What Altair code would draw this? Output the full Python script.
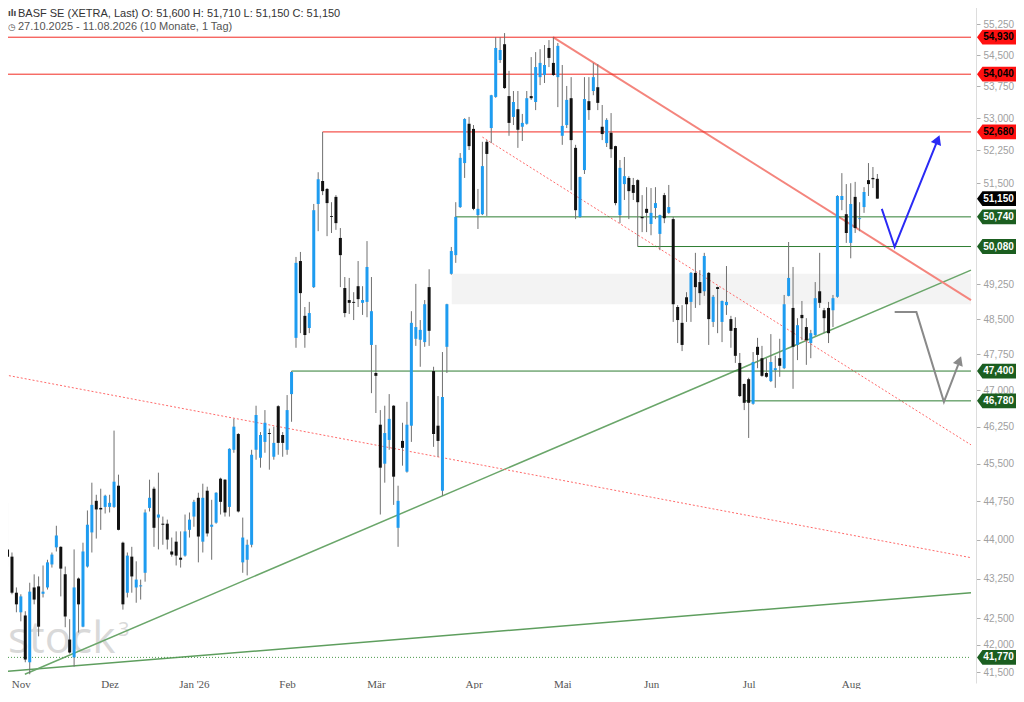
import json
import altair as alt
import pandas as pd

# ---------------- data (prices in EUR, trading-day index; 0 = 03.11.2025) ----------------
first_day = -3
opens = [43.81, 43.67, 42.98, 42.61, 42.55, 41.68, 43.08, 43.10, 42.96, 43.08, 43.52, 43.85, 43.86, 43.33, 42.10, 41.77,
         43.25, 42.34, 43.48, 44.14, 44.76, 44.62, 44.64, 44.64, 44.64, 45.06, 43.94, 42.98, 43.67, 43.08, 43.10, 43.36,
         44.62, 45.00, 44.43, 44.31, 44.31, 43.77, 43.96, 43.65, 43.69, 44.19, 44.45, 44.82, 43.96, 44.96, 44.25, 44.33,
         45.20, 45.18, 44.64, 45.78, 46.10, 43.56, 43.61, 43.90, 45.78, 45.62, 45.94, 46.12, 45.64, 46.67, 46.08, 45.78,
         46.92, 48.10, 49.76, 48.57, 48.31, 49.19, 51.03, 51.55, 51.37, 50.76, 51.19, 50.27, 49.17, 48.91, 48.87, 49.21,
         48.85, 48.87, 47.95, 47.36, 46.29, 45.50, 45.98, 46.68, 44.23, 45.96, 45.34, 46.27, 48.08, 48.06, 48.01, 49.19,
         47.40, 46.27, 44.96, 47.91, 49.48, 49.89, 50.96, 51.96, 52.87, 52.75, 50.78, 50.80, 52.45, 52.77, 53.50, 54.38,
         54.76, 53.52, 53.03, 53.21, 52.80, 52.87, 53.52, 53.38, 53.97, 54.02, 54.67, 54.31, 53.97, 52.59, 52.84, 53.47,
         52.31, 50.74, 51.80, 53.40, 53.64, 53.73, 52.80, 52.42, 52.66, 52.35, 50.78, 51.48, 51.62, 51.46, 51.57, 50.74,
         50.92, 50.58, 50.94, 50.36, 51.23, 50.83, 50.69, 48.76, 48.42, 48.97, 48.87, 49.50, 49.30, 49.10, 49.50, 48.44,
         49.19, 48.44, 48.80, 48.50, 48.31, 47.57, 47.13, 47.23, 46.72, 47.91, 47.67, 47.36, 47.19, 47.42, 47.67, 47.46,
         49.00, 48.74, 47.95, 48.59, 48.33, 47.99, 48.16, 49.10, 48.69, 48.74, 48.69, 48.98, 51.12, 50.80, 50.16, 51.19,
         50.69, 50.96, 51.57, 51.62, 51.60]
highs = [44.72, 43.75, 43.08, 42.95, 42.63, 43.17, 43.33, 43.29, 43.50, 43.61, 43.75, 44.27, 43.87, 43.48, 42.48, 43.81,
         43.27, 43.94, 44.57, 45.12, 44.88, 45.00, 44.88, 44.88, 46.17, 45.28, 43.96, 43.75, 43.86, 43.58, 43.23, 44.59,
         45.18, 45.04, 45.32, 44.45, 44.39, 44.04, 44.16, 44.16, 44.49, 44.53, 44.78, 44.92, 45.10, 45.04, 44.78, 44.93,
         45.22, 45.19, 45.81, 46.41, 46.12, 44.43, 44.00, 45.78, 46.68, 46.14, 46.59, 46.21, 46.25, 46.69, 46.14, 46.90,
         47.40, 49.85, 49.96, 48.76, 48.87, 51.03, 51.75, 52.68, 51.39, 51.07, 51.23, 50.49, 49.41, 49.39, 49.08, 49.76,
         49.21, 50.20, 49.41, 47.95, 46.59, 46.68, 46.92, 46.69, 45.06, 46.33, 46.76, 48.67, 49.26, 48.48, 48.91, 49.58,
         47.49, 46.88, 47.80, 48.83, 50.07, 51.07, 52.19, 53.00, 53.03, 52.84, 51.37, 52.45, 52.49, 53.55, 54.93, 54.93,
         55.03, 54.12, 53.64, 53.64, 53.10, 53.64, 54.45, 54.57, 54.64, 54.74, 54.86, 54.93, 54.79, 54.26, 53.76, 53.97,
         52.38, 51.65, 53.97, 53.97, 54.31, 54.28, 53.31, 53.00, 53.12, 52.36, 52.03, 52.10, 51.66, 51.62, 51.59, 51.23,
         51.41, 51.39, 51.41, 50.79, 51.28, 51.46, 50.74, 48.80, 48.80, 49.08, 49.52, 49.94, 49.56, 49.94, 49.52, 49.02,
         49.20, 48.90, 49.65, 48.57, 48.54, 47.78, 47.14, 47.26, 47.80, 48.10, 47.93, 47.67, 48.18, 47.72, 48.08, 49.02,
         50.18, 49.63, 48.52, 48.89, 48.52, 48.27, 49.30, 49.94, 48.74, 48.87, 49.02, 51.23, 51.73, 51.48, 51.50, 51.53,
         51.07, 51.41, 51.96, 51.87, 51.71]
lows = [43.48, 42.95, 42.61, 42.44, 41.68, 41.46, 42.76, 42.16, 42.89, 43.04, 43.46, 43.77, 42.91, 42.33, 41.84, 41.60,
        42.23, 42.33, 43.46, 43.75, 44.02, 44.19, 44.51, 44.53, 44.62, 44.18, 42.66, 42.89, 42.98, 42.79, 42.85, 43.19,
        44.55, 43.86, 43.81, 43.90, 43.81, 43.67, 43.50, 43.46, 43.67, 44.04, 44.25, 43.56, 43.75, 44.06, 43.61, 44.31,
        44.49, 44.45, 44.45, 45.72, 44.53, 43.36, 43.31, 43.85, 45.58, 45.42, 45.72, 45.38, 45.58, 45.68, 45.64, 45.68,
        46.35, 47.89, 48.20, 47.89, 48.20, 49.17, 50.42, 51.23, 50.31, 50.38, 50.45, 49.19, 48.54, 48.61, 48.48, 48.76,
        48.59, 48.54, 46.94, 46.53, 44.49, 45.12, 45.78, 44.68, 43.86, 45.46, 45.32, 45.94, 47.93, 47.49, 47.91, 47.93,
        45.84, 45.64, 44.86, 47.36, 49.46, 49.72, 50.94, 51.62, 52.26, 50.89, 50.47, 50.78, 50.76, 52.42, 53.48, 54.31,
        53.69, 52.59, 52.84, 52.31, 52.47, 52.85, 53.43, 53.19, 53.78, 53.83, 54.21, 54.00, 53.26, 52.38, 52.77, 51.34,
        50.69, 50.72, 51.71, 52.96, 53.54, 53.19, 52.49, 52.33, 52.08, 51.00, 50.60, 51.12, 50.69, 51.12, 50.08, 50.40,
        50.40, 50.33, 50.69, 50.00, 50.60, 50.81, 48.44, 47.99, 47.82, 48.44, 48.44, 48.74, 48.80, 49.00, 47.95, 48.33,
        48.20, 48.01, 48.59, 47.89, 47.57, 46.86, 46.59, 46.02, 46.70, 47.46, 47.28, 47.26, 47.17, 47.05, 47.28, 47.44,
        48.99, 47.03, 47.63, 48.05, 47.53, 47.67, 48.14, 48.74, 48.20, 47.99, 48.33, 48.96, 50.89, 50.16, 49.82, 50.38,
        50.42, 50.83, 51.21, 51.39, 51.15]
closes = [43.67, 42.98, 42.76, 42.91, 41.73, 43.00, 42.85, 42.34, 43.00, 43.56, 43.71, 44.08, 43.44, 42.53, 41.86, 43.08,
          42.76, 43.77, 44.29, 44.68, 44.59, 44.59, 44.86, 44.72, 45.14, 44.19, 42.76, 43.69, 43.29, 43.23, 43.12, 44.53,
          44.82, 44.23, 44.49, 44.29, 44.00, 43.71, 43.69, 43.61, 44.16, 44.39, 44.74, 44.06, 44.82, 44.12, 44.29, 44.92,
          44.74, 44.53, 45.80, 46.25, 44.55, 44.04, 43.90, 45.68, 46.49, 46.08, 46.33, 46.10, 45.92, 45.92, 45.92, 46.59,
          47.38, 49.72, 49.06, 48.16, 48.63, 50.89, 51.59, 51.32, 51.05, 50.74, 50.60, 49.89, 48.63, 48.85, 48.85, 48.93,
          48.91, 49.63, 48.67, 47.30, 45.42, 46.12, 46.41, 45.24, 44.76, 45.82, 46.29, 48.42, 48.33, 48.27, 48.82, 48.25,
          46.10, 45.96, 46.86, 48.82, 49.98, 50.74, 52.08, 52.98, 52.35, 50.92, 50.92, 51.89, 52.17, 53.54, 54.67, 54.62,
          53.71, 52.89, 53.38, 52.73, 52.89, 53.47, 53.47, 54.21, 54.31, 54.26, 54.43, 54.02, 54.72, 52.82, 53.43, 52.49,
          50.89, 51.64, 53.45, 53.19, 53.97, 53.36, 52.63, 52.96, 52.28, 51.05, 51.85, 51.66, 51.32, 51.28, 51.07, 50.71,
          50.83, 50.83, 51.05, 50.78, 50.71, 50.96, 48.82, 48.48, 47.95, 48.82, 49.50, 49.19, 49.06, 49.87, 48.50, 48.98,
          49.15, 48.89, 48.87, 48.25, 47.72, 46.88, 46.74, 46.74, 47.59, 47.74, 47.30, 47.28, 47.59, 47.46, 47.51, 48.82,
          49.39, 47.91, 48.37, 48.52, 48.05, 48.20, 48.95, 48.85, 48.52, 48.20, 48.95, 51.21, 51.21, 50.38, 51.03, 50.49,
          50.71, 51.30, 51.48, 51.59, 51.15]

month_idx = [0, 20, 39, 60, 80, 102, 122, 142, 164, 187]
month_lbl = ["Nov", "Dez", "Jan '26", "Feb", "Mär", "Apr", "Mai", "Jun", "Jul", "Aug"]
y_ticks = [55.25, 54.5, 53.75, 53.0, 52.25, 51.5, 49.25, 48.5, 47.75, 47.0, 46.25, 45.5,
           44.75, 44.0, 43.25, 42.5, 42.0, 41.5]

X_MIN, X_MAX = -3.57, 214.1
Y_MIN, Y_MAX = 41.30, 55.84

red_levels = [54.93, 54.04, 52.68]
red_level_start = [X_MIN, X_MIN, 68]
green_levels = [50.74, 50.08, 47.40, 46.78]
green_level_start = [98, 139, 61, 163]
dotted_level = 41.77

band_i = [97.1, X_MAX]
band_p = [48.82, 49.48]

red_trend_i, red_trend_p = [119.9, X_MAX], [54.93, 48.91]
red_dot1_i, red_dot1_p = [X_MIN, X_MAX], [47.32, 43.65]
red_dot2_i, red_dot2_p = [104.0, X_MAX], [52.56, 45.88]
green_up1_i, green_up1_p = [0.9, X_MAX], [41.46, 49.56]
green_up2_i, green_up2_p = [X_MIN, X_MAX], [41.51, 42.98]

blue_i, blue_p = [194.0, 196.9, 206.3], [50.92, 50.07, 52.42]
blue_head_i, blue_head_p = [206.6], [52.50]
grey_i, grey_p = [196.9, 201.8, 208.0, 211.2], [48.65, 48.65, 46.76, 47.53]
grey_head_i, grey_head_p = [211.5], [47.62]

tag_vals = [54.93, 54.04, 52.68, 51.15, 50.74, 50.08, 47.40, 46.78, 41.77]
tag_bg = ["#ff1010", "#ff1010", "#ff1010", "#000000", "#1b5e20", "#1b5e20", "#1b5e20", "#1b5e20", "#1b5e20"]
tag_fg = ["#000000", "#000000", "#000000", "#ffffff", "#ffffff", "#ffffff", "#ffffff", "#ffffff", "#ffffff"]

header1 = "BASF SE (XETRA, Last) O: 51,600  H: 51,710  L: 51,150  C: 51,150"
header2 = "27.10.2025 - 11.08.2026   (10 Monate, 1 Tag)"

# ---------------- chart ----------------
W, H = 976, 683
FONT = "Liberation Sans"
UP, DOWN = "#1e9cf0", "#111111"

xs = alt.Scale(domain=[X_MIN, X_MAX], nice=False, zero=False)
ys = alt.Scale(type="log", domain=[Y_MIN, Y_MAX], nice=False, zero=False)

df = pd.DataFrame({"i": list(range(first_day, first_day + len(opens))),
                   "open": opens, "high": highs, "low": lows, "close": closes})
df["col"] = [UP if c >= o else DOWN for o, c in zip(opens, closes)]

x_expr = "%s[indexof(%s, datum.value)]" % (json.dumps(month_lbl, ensure_ascii=False), json.dumps(month_idx))

x_axis = alt.Axis(values=month_idx, labelExpr=x_expr, title=None, domain=False, ticks=False, tickSize=0,
                  grid=False, labelColor="#555555", labelFontSize=11, labelFont="Liberation Sans Narrow",
                  labelPadding=-5, labelFlush=False, labelOverlap=False)
y_axis = alt.Axis(orient="right", values=y_ticks, title=None, grid=False,
                  labelExpr="replace(format(datum.value, '.3f'), '.', ',')",
                  labelColor="#a0a0a0", labelFontSize=10, labelFont=FONT, labelPadding=3,
                  tickColor="#b0b0b0", tickSize=4, domainColor="#dddddd", labelOverlap=False)


def X(field):
    return alt.X(field, scale=xs, axis=x_axis)


def Y(field):
    return alt.Y(field, scale=ys, axis=y_axis)


def line_layer(i_vals, p_vals, color, width=1.0, dash=None):
    d = pd.DataFrame({"i": i_vals, "p": p_vals, "o": list(range(len(i_vals)))})
    kw = dict(color=color, strokeWidth=width, clip=True)
    if dash:
        kw["strokeDash"] = dash
    return alt.Chart(d).mark_line(**kw).encode(x=X("i:Q"), y=Y("p:Q"), order="o:Q")


watermark = alt.Chart(pd.DataFrame({"t": ["stock"]})).mark_text(
    align="left", baseline="alphabetic", fontSize=44, font="Open Sans", color="#d9d9d9"
).encode(x=alt.value(8), y=alt.value(653), text="t:N")
watermark3 = alt.Chart(pd.DataFrame({"t": ["3"]})).mark_text(
    align="left", baseline="alphabetic", fontSize=20, font="Open Sans", color="#d9d9d9"
).encode(x=alt.value(118), y=alt.value(636), text="t:N")

band = alt.Chart(pd.DataFrame({"i": [band_i[0]], "i2": [band_i[1]], "p": [band_p[0]], "p2": [band_p[1]]})).mark_rect(
    color="#f3f3f3").encode(x=X("i:Q"), x2="i2:Q", y=Y("p:Q"), y2="p2:Q")

lvl_df = pd.DataFrame({"p": red_levels + green_levels,
                       "i": red_level_start + green_level_start,
                       "c": ["#f22a22"] * len(red_levels) + ["#2e7d32"] * len(green_levels)})
lvl_df["i2"] = X_MAX
levels = alt.Chart(lvl_df).mark_rule(strokeWidth=1).encode(
    x=X("i:Q"), x2="i2:Q", y=Y("p:Q"), color=alt.Color("c:N", scale=None))
dotted = alt.Chart(pd.DataFrame({"i": [X_MIN], "i2": [X_MAX], "p": [dotted_level]})).mark_rule(
    strokeWidth=1, strokeDash=[1, 2], color="#4c9a4c").encode(x=X("i:Q"), x2="i2:Q", y=Y("p:Q"))

wicks = alt.Chart(df).mark_rule(color="#707070", strokeWidth=1).encode(
    x=X("i:Q"), y=Y("low:Q"), y2="high:Q")
bodies = alt.Chart(df).mark_bar(size=3).encode(
    x=X("i:Q"), y=Y("open:Q"), y2="close:Q", color=alt.Color("col:N", scale=None))

blue_head = alt.Chart(pd.DataFrame({"i": blue_head_i, "p": blue_head_p})).mark_point(
    shape="triangle-up", filled=True, size=120, angle=22, color="#2a2af5", opacity=1).encode(
    x=X("i:Q"), y=Y("p:Q"))
grey_head = alt.Chart(pd.DataFrame({"i": grey_head_i, "p": grey_head_p})).mark_point(
    shape="triangle-up", filled=True, size=110, angle=21, color="#8a8a8a", opacity=1).encode(
    x=X("i:Q"), y=Y("p:Q"))

tag_df = pd.DataFrame({"p": tag_vals, "bg": tag_bg, "fg": tag_fg,
                       "txt": [f"{v:.3f}".replace(".", ",") for v in tag_vals]})
tag_shape = "M -1 0 L -0.72 -0.38 L 1 -0.38 L 1 0.38 L -0.72 0.38 Z"
tags = alt.Chart(tag_df).mark_point(shape=tag_shape, filled=True, size=1520, opacity=1, strokeWidth=0).encode(
    x=alt.value(W + 20.5), y=Y("p:Q"), color=alt.Color("bg:N", scale=None))
tag_text = alt.Chart(tag_df).mark_text(fontSize=10, fontWeight="bold", font=FONT, align="center",
                                       baseline="middle", dx=2).encode(
    x=alt.value(W + 20.5), y=Y("p:Q"), text="txt:N", color=alt.Color("fg:N", scale=None))

head1 = alt.Chart(pd.DataFrame({"t": [header1]})).mark_text(
    align="left", baseline="middle", fontSize=11, font=FONT, color="#333333").encode(
    x=alt.value(18), y=alt.value(14), text="t:N")
head_icon1 = alt.Chart(pd.DataFrame({"t": ["ılı"]})).mark_text(
    align="left", baseline="middle", fontSize=8, font="DejaVu Sans", fontWeight="bold", color="#444444").encode(
    x=alt.value(8), y=alt.value(14), text="t:N")
head_icon2 = alt.Chart(pd.DataFrame({"t": ["◷"]})).mark_text(
    align="left", baseline="middle", fontSize=9, font="DejaVu Sans", color="#555555").encode(
    x=alt.value(8), y=alt.value(27), text="t:N")
head2 = alt.Chart(pd.DataFrame({"t": [header2]})).mark_text(
    align="left", baseline="middle", fontSize=11, font=FONT, color="#555555").encode(
    x=alt.value(18), y=alt.value(27), text="t:N")

chart = alt.layer(
    watermark, watermark3, band,
    line_layer(green_up2_i, green_up2_p, "#5e9e5e", 1.5),
    line_layer(green_up1_i, green_up1_p, "#6aa66a", 1.5),
    line_layer(red_dot1_i, red_dot1_p, "#ff6a6a", 1, [2, 2]),
    line_layer(red_dot2_i, red_dot2_p, "#ff6a6a", 1, [2, 2]),
    line_layer(red_trend_i, red_trend_p, "#f4857d", 2),
    levels, dotted,
    wicks, bodies,
    line_layer(blue_i, blue_p, "#2a2af5", 2),
    blue_head,
    line_layer(grey_i, grey_p, "#8a8a8a", 2),
    grey_head,
    tags, tag_text, head_icon1, head1, head_icon2, head2,
).properties(
    width=W, height=H,
    padding={"left": -8, "top": -8, "right": 40, "bottom": 6},
    autosize=alt.AutoSizeParams(type="none"),
    background="white",
).configure_view(stroke=None)

chart.save("out.html", embed_options={"renderer": "svg", "actions": False})
